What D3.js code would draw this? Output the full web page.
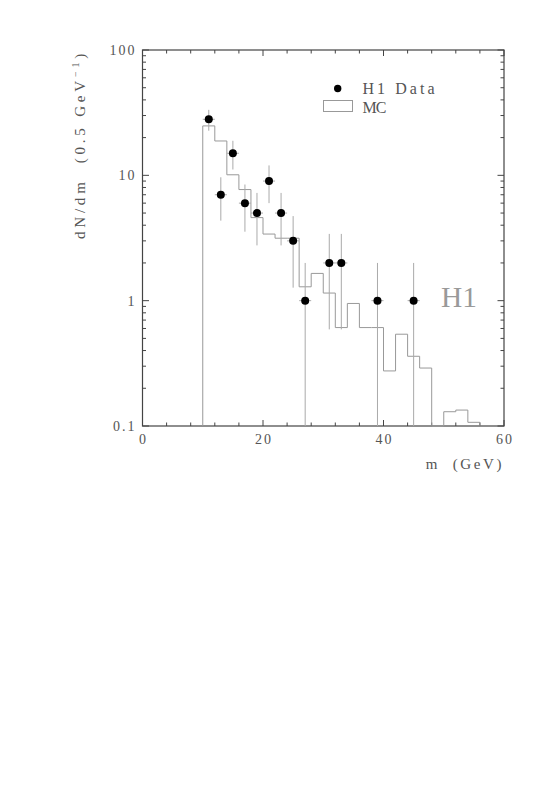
<!DOCTYPE html>
<html><head><meta charset="utf-8">
<script src="https://cdn.jsdelivr.net/npm/d3@7"></script>
<style>body{margin:0;background:#fff}svg{display:block}</style>
</head><body>
<svg id="c" width="557" height="801"></svg>
<script>
// MC histogram: bin lower edges (GeV, 2 GeV wide) and contents
const mcEdges = [10,12,14,16,18,20,22,24,26,28,30,32,34,36,38,40,42,44,46,48,50,52,54,56];
const mcValues = [24.8,18.8,10.1,7.7,4.6,3.4,3.15,3.15,1.29,1.65,1.15,0.61,0.95,0.61,0.61,0.275,0.54,0.36,0.29,0,0.13,0.134,0.107];
// H1 data points
const dataX = [11,13,15,17,19,21,23,25,27,31,33,39,45];
const dataY = [28,7,15,6,5,9,5,3,1,2,2,1,1];
const dataErr = [5.3,2.65,3.87,2.45,2.24,3,2.24,1.73,1,1.41,1.41,1,1];
const dataXErr = 1;
const xTicks = [0,20,40,60];
const yTicks = [0.1,1,10,100];
const yTickLabels = ["0.1","1","10","100"];

const svg = d3.select("#c");
const L=142.5, R=504, T=50, B=426;
const x = d3.scaleLinear().domain([0,60]).range([L,R]);
const y = d3.scaleLog().domain([0.1,100]).range([B,T]);
const yc = v => y(Math.max(v, 0.1));
const font = "'Liberation Serif', 'DejaVu Serif', serif";
const frameCol = "#444", histCol = "#999", errCol = "#aaa", textCol = "#555";

// frame
svg.append("rect").attr("x",L).attr("y",T).attr("width",R-L).attr("height",B-T)
  .attr("fill","none").attr("stroke",frameCol).attr("stroke-width",1.2);

// x ticks (major + minor every 4 GeV), bottom and top, inward
const xMinor = d3.range(0,61,4);
const g = svg.append("g").attr("stroke",frameCol).attr("stroke-width",1);
xMinor.forEach(v=>{
  const len = xTicks.includes(v)?6:3.5;
  g.append("line").attr("x1",x(v)).attr("x2",x(v)).attr("y1",B).attr("y2",B-len);
  g.append("line").attr("x1",x(v)).attr("x2",x(v)).attr("y1",T).attr("y2",T+len);
});
// y ticks (log)
const yMinor = [];
[0.1,1,10].forEach(d=>{ for(let k=1;k<=9;k++) yMinor.push(d*k); });
yMinor.push(100);
yMinor.forEach(v=>{
  const major = yTicks.some(t=>Math.abs(t-v)<1e-9);
  const len = major?6.5:3.5;
  g.append("line").attr("x1",L).attr("x2",L+len).attr("y1",y(v)).attr("y2",y(v));
  g.append("line").attr("x1",R).attr("x2",R-len).attr("y1",y(v)).attr("y2",y(v));
});

// tick labels
svg.selectAll(".xl").data(xTicks).enter().append("text")
  .attr("x",d=>x(d)+1).attr("y",B+18).attr("text-anchor","middle")
  .attr("font-family",font).attr("font-size",14).attr("letter-spacing",2)
  .attr("fill",textCol).text(d=>d);
svg.selectAll(".yl").data(yTicks).enter().append("text")
  .attr("x",L-6).attr("y",d=>y(d)+5).attr("text-anchor","end")
  .attr("font-family",font).attr("font-size",14).attr("letter-spacing",2)
  .attr("fill",textCol).text((d,i)=>yTickLabels[i]);

// axis titles
svg.append("text").attr("x",R).attr("y",469).attr("text-anchor","end")
  .attr("font-family",font).attr("font-size",15).attr("letter-spacing",2.6)
  .attr("fill",textCol).attr("xml:space","preserve").style("white-space","pre").text("m  (GeV)");
const yt = svg.append("text").attr("transform","translate(85,"+T+") rotate(-90)")
  .attr("text-anchor","end").attr("font-family",font).attr("font-size",15)
  .attr("letter-spacing",3.8).attr("fill",textCol).style("white-space","pre");
yt.append("tspan").text("dN/dm  (0.5 GeV");
yt.append("tspan").attr("dy",-6).attr("font-size",10).text("\u22121");
yt.append("tspan").attr("dy",6).text(")");

// MC histogram path
let p = "M"+x(mcEdges[0])+","+B;
mcValues.forEach((v,i)=>{
  p += "L"+x(mcEdges[i])+","+yc(v)+"L"+x(mcEdges[i+1])+","+yc(v);
});
p += "L"+x(mcEdges[mcEdges.length-1])+","+B;
svg.append("path").attr("d",p).attr("fill","none").attr("stroke",histCol).attr("stroke-width",1);

// data error bars
const eg = svg.append("g").attr("stroke",errCol).attr("stroke-width",1);
dataX.forEach((xv,i)=>{
  eg.append("line").attr("x1",x(xv)).attr("x2",x(xv))
    .attr("y1",yc(dataY[i]+dataErr[i])).attr("y2",yc(dataY[i]-dataErr[i]));
  eg.append("line").attr("x1",x(xv-dataXErr)).attr("x2",x(xv+dataXErr))
    .attr("y1",y(dataY[i])).attr("y2",y(dataY[i]));
});
svg.selectAll(".pt").data(dataX).enter().append("circle")
  .attr("cx",d=>x(d)).attr("cy",(d,i)=>y(dataY[i])).attr("r",4).attr("fill","#000");

// legend
svg.append("circle").attr("cx",337.7).attr("cy",88.5).attr("r",3.7).attr("fill","#000");
svg.append("text").attr("x",362.5).attr("y",94).attr("font-family",font).attr("font-size",16)
  .attr("fill",textCol).attr("textLength",72).attr("lengthAdjust","spacing").text("H1 Data");
svg.append("rect").attr("x",323.5).attr("y",100.5).attr("width",29).attr("height",11)
  .attr("fill","none").attr("stroke",histCol).attr("stroke-width",1);
svg.append("text").attr("x",362.5).attr("y",112.5).attr("font-family",font).attr("font-size",16)
  .attr("fill",textCol).attr("textLength",24).attr("lengthAdjust","spacing").text("MC");

// H1 label
svg.append("text").attr("x",441).attr("y",306.5).attr("font-family",font).attr("font-size",30)
  .attr("fill","#999").attr("textLength",36).attr("lengthAdjust","spacingAndGlyphs").text("H1");
</script>
</body></html>
